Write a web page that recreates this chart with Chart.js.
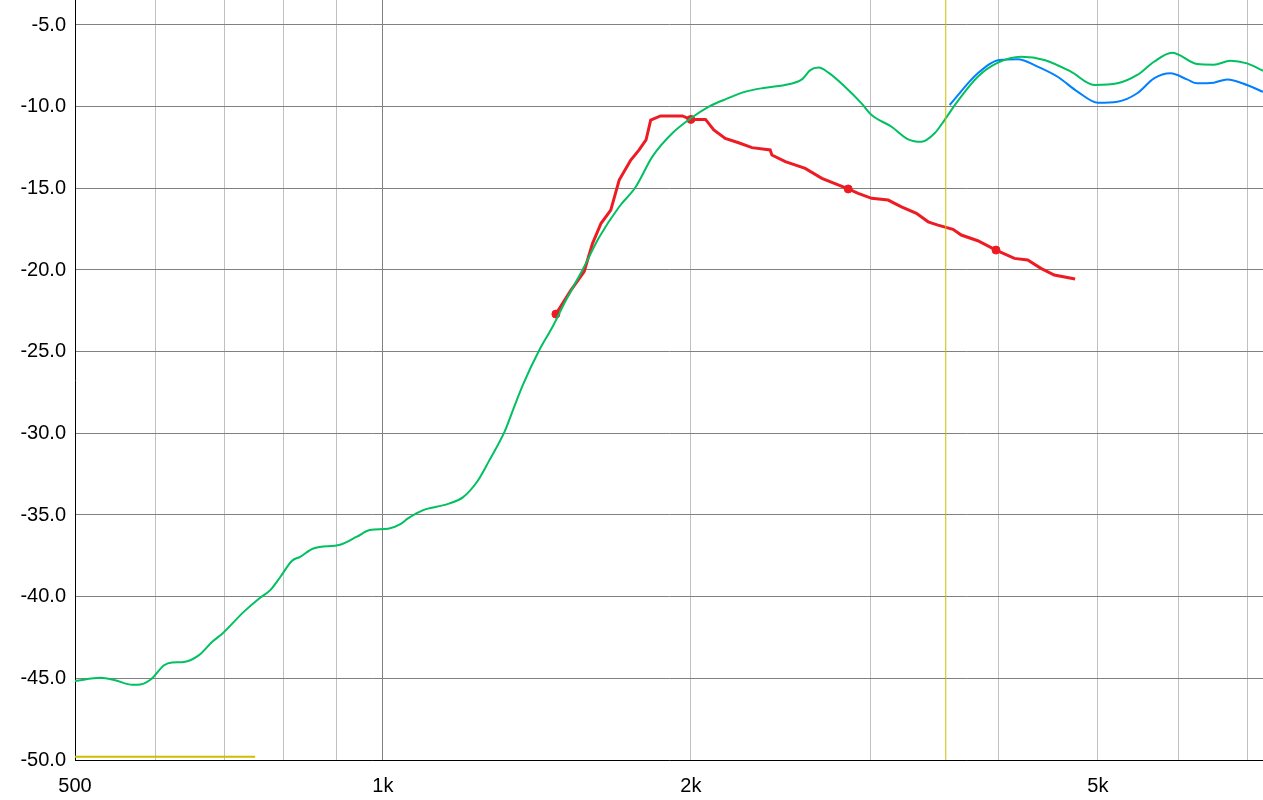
<!DOCTYPE html>
<html>
<head>
<meta charset="utf-8">
<script src="https://cdn.jsdelivr.net/npm/chart.js@4.4.1/dist/chart.umd.min.js"></script>
<style>
  body { margin: 0; background: #fff; }
  canvas { display: block; }
</style>
</head>
<body>
<canvas id="chart" width="1263" height="800"></canvas>
<script>
// axis ticks
const xTicks = [500, 600, 700, 800, 900, 1000, 2000, 3000, 4000, 5000, 6000, 7000];
const xLabels = ['500', '', '', '', '', '1k', '2k', '', '', '5k', '', ''];
const yTicks = [-50, -45, -40, -35, -30, -25, -20, -15, -10, -5];

// green trace (Hz / dB)
const greenFreq = [500, 530, 546, 569, 575, 593, 611, 622, 639, 661, 681, 697, 731, 759, 776, 794, 815, 830, 855, 908,
  943, 971, 1012, 1039, 1058, 1095, 1128, 1162, 1197, 1238, 1271, 1315, 1340, 1370, 1422, 1465, 1510, 1567, 1627, 1702,
  1767, 1834, 1918, 2000, 2083, 2161, 2262, 2365, 2492, 2568, 2617, 2666, 2726, 2829, 2937, 3004, 3142, 3262, 3360, 3462,
  3540, 3648, 3815, 3992, 4206, 4432, 4705, 4960, 5224, 5463, 5673, 5908, 6250, 6490, 6735, 6993, 7250];
const greenDb = [-45.17, -44.97, -45.1, -45.4, -45.4, -45.07, -44.2, -44.03, -44.0, -43.58, -42.76, -42.25, -40.93, -40.05, -39.6, -38.78, -37.8, -37.56, -37.05, -36.82,
  -36.33, -35.92, -35.84, -35.58, -35.21, -34.7, -34.5, -34.29, -33.92, -32.9, -31.64, -29.9, -28.58, -27.05, -24.9, -23.48, -21.84, -20.0, -18.0, -16.13,
  -14.9, -13.06, -11.63, -10.71, -10.0, -9.55, -9.08, -8.84, -8.63, -8.33, -7.76, -7.61, -7.92, -8.78, -9.8, -10.51, -11.23, -12.0, -12.15, -11.63,
  -10.82, -9.65, -8.17, -7.31, -6.94, -7.14, -7.86, -8.67, -8.57, -8.06, -7.25, -6.7, -7.39, -7.43, -7.19, -7.35, -7.8];

// blue trace
const blueFreq = [3581, 3815, 4007, 4174, 4365, 4566, 4775, 5000, 5224, 5463, 5673, 5886, 6111, 6250, 6490, 6686, 6993, 7250];
const blueDb = [-9.9, -7.96, -7.14, -7.1, -7.55, -8.17, -9.08, -9.76, -9.7, -9.18, -8.27, -7.96, -8.33, -8.57, -8.53, -8.33, -8.67, -9.1];

// red trace
const redFreq = [1476, 1527, 1573, 1585, 1603, 1634, 1670, 1702, 1747, 1780, 1808, 1827, 1868, 1962, 2000, 2067, 2106, 2161,
  2227, 2295, 2391, 2400, 2474, 2587, 2686, 2850, 2915, 3004, 3118, 3213, 3323, 3412, 3488, 3608, 3676, 3815, 3975,
  4143, 4269, 4398, 4532, 4750];
const redDb = [-22.7, -21.23, -20.1, -19.39, -18.37, -17.14, -16.33, -14.49, -13.27, -12.65, -12.04, -10.82, -10.57, -10.57, -10.78, -10.78, -11.43, -11.94,
  -12.21, -12.51, -12.65, -12.96, -13.37, -13.78, -14.39, -15.04, -15.31, -15.61, -15.72, -16.13, -16.53, -17.05, -17.25, -17.51, -17.86, -18.21, -18.78,
  -19.29, -19.39, -19.9, -20.31, -20.55];
const markerFreq = [1476, 2000, 2850, 3975];
const markerDb = [-22.7, -10.78, -15.04, -18.78];

// yellow cursors
const cursorFreq = [3550, 3550];
const cursorDb = [-50, -3.47];
const levelFreq = [500, 750];
const levelDb = [-49.8, -49.8];

const pts = (xs, ys) => xs.map((x, i) => ({ x: x, y: ys[i] }));
const font = { family: '"Liberation Sans", Arial, sans-serif', size: 20 };

new Chart(document.getElementById('chart'), {
  type: 'line',
  data: {
    datasets: [
      { data: pts(levelFreq, levelDb), borderColor: '#c8c000', borderWidth: 2, pointRadius: 0 },
      { data: pts(cursorFreq, cursorDb), borderColor: '#c8c000', borderWidth: 1, pointRadius: 0 },
      { data: pts(greenFreq, greenDb), borderColor: '#00c060', borderWidth: 2, pointRadius: 0, cubicInterpolationMode: 'monotone' },
      { data: pts(blueFreq, blueDb), borderColor: '#0080ff', borderWidth: 2, pointRadius: 0, cubicInterpolationMode: 'monotone' },
      { data: pts(redFreq, redDb), borderColor: '#ed1c24', borderWidth: 3, pointRadius: 0 },
      { data: pts(markerFreq, markerDb), showLine: false, pointRadius: 4, pointBackgroundColor: '#ed1c24', pointBorderColor: '#ed1c24' }
    ]
  },
  options: {
    responsive: false,
    animation: false,
    layout: { padding: 0, autoPadding: false },
    plugins: { legend: { display: false }, tooltip: { enabled: false } },
    scales: {
      x: {
        type: 'logarithmic',
        min: 500,
        max: 7250,
        afterBuildTicks: s => { s.ticks = xTicks.map(v => ({ value: v })); },
        afterFit: s => { s.height = 40; s.paddingLeft = 0; s.paddingRight = 0; },
        ticks: {
          autoSkip: false,
          maxRotation: 0,
          padding: 14,
          color: '#000',
          font: font,
          callback: (v, i) => xLabels[i]
        },
        grid: {
          color: ctx => (ctx.tick && ctx.tick.value === 1000) ? '#808080' : '#c0c0c0',
          drawTicks: false
        },
        border: { color: '#000', width: 1 }
      },
      y: {
        min: -50,
        max: -3.47,
        afterBuildTicks: s => { s.ticks = yTicks.map(v => ({ value: v })); },
        afterFit: s => { s.width = 75; s.paddingTop = 0; s.paddingBottom = 0; },
        ticks: {
          padding: 9,
          color: '#000',
          font: font,
          callback: v => v.toFixed(1)
        },
        grid: { color: '#808080', drawTicks: false },
        border: { color: '#000', width: 1 }
      }
    }
  }
});
</script>
</body>
</html>
